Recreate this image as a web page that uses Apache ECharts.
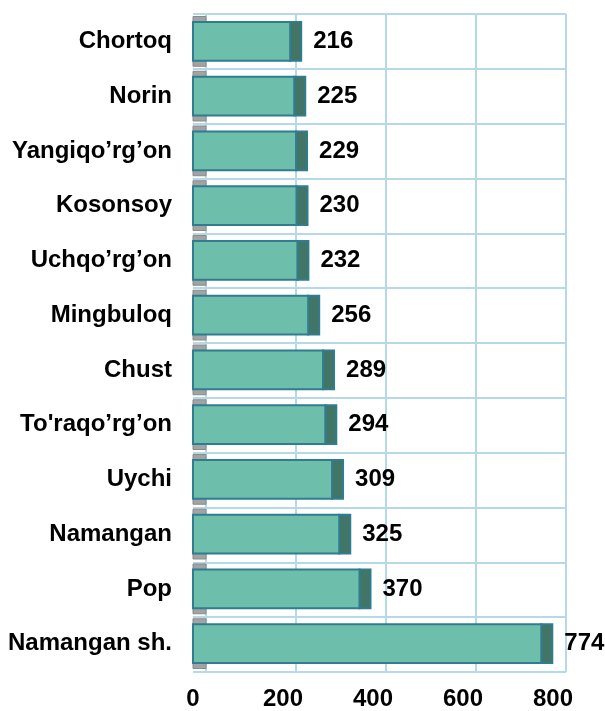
<!DOCTYPE html>
<html>
<head>
<meta charset="utf-8">
<script src="https://cdn.jsdelivr.net/npm/echarts@6/dist/echarts.min.js"></script>
<style>
  html, body { margin: 0; padding: 0; background: #fff; }
  #chart { width: 605px; height: 711px; }
</style>
</head>
<body>
<div id="chart"></div>
<script>
// districts, top to bottom as drawn
const districts = ['Chortoq', 'Norin', 'Yangiqo’rg’on', 'Kosonsoy', 'Uchqo’rg’on', 'Mingbuloq',
  'Chust', 'To\'raqo’rg’on', 'Uychi', 'Namangan', 'Pop', 'Namangan sh.']
const values = [216, 225, 229, 230, 232, 256, 289, 294, 309, 325, 370, 774]
const xTicks = [0, 200, 400, 600, 800]

const FONT = '"Liberation Sans", Arial, sans-serif'
const gridColor = '#b5dae6'
const depth = 13 // 3d offset of the back wall, px

const chart = echarts.init(document.getElementById('chart'))

// draws the front face, the dark side, the grey wall piece and the label
function renderBar(params, api) {
  const v = api.value(0)
  const cat = api.value(1)
  const start = api.coord([0, cat])
  const end = api.coord([v, cat])
  const band = api.size([0, 1])[1]
  const h = band * 0.71
  const top = start[1] - h / 2
  const side = 11
  return {
    type: 'group',
    children: [
      {
        type: 'rect',
        shape: { x: start[0], y: start[1] - band / 2 + 2.5, width: depth, height: band - 5 },
        style: { fill: '#a3a3a5', stroke: '#8a8a8c', lineWidth: 1 }
      },
      {
        type: 'rect',
        shape: { x: end[0], y: top, width: side, height: h },
        style: { fill: '#437566', stroke: '#2f7d8e', lineWidth: 2 }
      },
      {
        type: 'rect',
        shape: { x: start[0], y: top, width: end[0] - start[0], height: h },
        style: { fill: '#6dbfab', stroke: '#2f7d8e', lineWidth: 2 }
      },
      {
        type: 'text',
        x: end[0] + side + 12,
        y: start[1],
        style: {
          text: String(v),
          fill: '#000',
          font: 'bold 24px ' + FONT,
          verticalAlign: 'middle',
          align: 'left'
        }
      }
    ]
  }
}

chart.setOption({
  animation: false,
  grid: [
    // wall: horizontal lines
    { left: 193, top: 14, width: 373, height: 658 },
    // back wall: vertical lines
    { left: 193 + depth, top: 14, width: 360, height: 658 },
    // front: bars and labels
    { left: 193, top: 14, width: 360, height: 658 }
  ],
  xAxis: [
    { gridIndex: 0, type: 'value', min: 0, max: 800, show: false },
    {
      gridIndex: 1, type: 'value', min: 0, max: 800, interval: 200,
      axisLine: { show: false }, axisTick: { show: false }, axisLabel: { show: false },
      splitLine: { show: true, lineStyle: { color: gridColor, width: 2 } }
    },
    {
      gridIndex: 2, type: 'value', min: xTicks[0], max: xTicks[xTicks.length - 1], interval: 200,
      axisLine: { show: false }, axisTick: { show: false }, splitLine: { show: false },
      axisLabel: {
        margin: 16, color: '#000', fontSize: 24, fontWeight: 'bold', fontFamily: FONT,
        customValues: xTicks
      }
    }
  ],
  yAxis: [
    {
      gridIndex: 0, type: 'category', inverse: true, data: districts,
      axisLine: { show: false }, axisTick: { show: false }, axisLabel: { show: false },
      splitLine: { show: true, lineStyle: { color: gridColor, width: 2 } }
    },
    { gridIndex: 1, type: 'category', inverse: true, data: districts, show: false },
    {
      gridIndex: 2, type: 'category', inverse: true, data: districts,
      axisLine: { show: false }, axisTick: { show: false }, splitLine: { show: false },
      axisLabel: { margin: 21, color: '#000', fontSize: 24, fontWeight: 'bold', fontFamily: FONT }
    }
  ],
  series: [
    {
      type: 'custom',
      xAxisIndex: 2,
      yAxisIndex: 2,
      renderItem: renderBar,
      encode: { x: 0, y: 1 },
      data: values.map((v, i) => [v, i]),
      z: 5
    }
  ]
})
</script>
</body>
</html>
